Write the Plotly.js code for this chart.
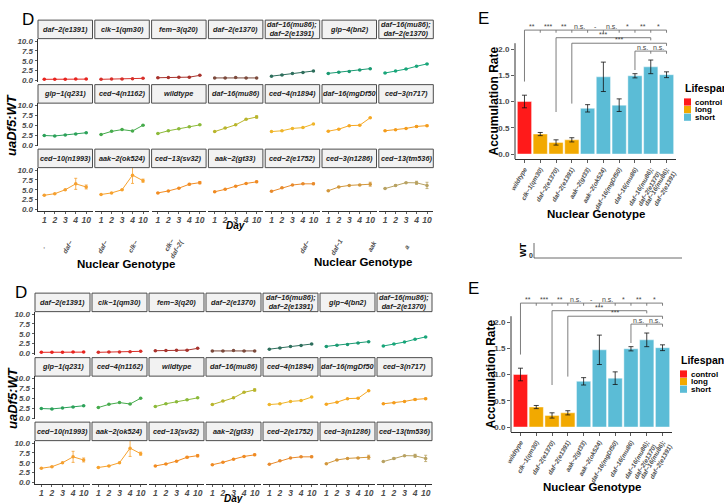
<!DOCTYPE html>
<html>
<head>
<meta charset="utf-8">
<script src="https://cdn.plot.ly/plotly-3.0.1.min.js"></script>
<style>body{margin:0;background:#fff}</style>
</head>
<body>
<div id="chart" style="width:724px;height:503px"></div>
<script>
// Panel D: uaDf5:WT ratio per day, one facet per strain
let days = ["1", "2", "3", "4", "10"]
let strains = ["daf−2(e1391)", "clk−1(qm30)", "fem−3(q20)", "daf−2(e1370)", "daf−16(mu86);<br>daf−2(e1391)", "glp−4(bn2)", "daf−16(mu86);<br>daf−2(e1370)",
               "glp−1(q231)", "ced−4(n1162)", "wildtype", "daf−16(mu86)", "ced−4(n1894)", "daf−16(mgDf50", "ced−3(n717)",
               "ced−10(n1993)", "aak−2(ok524)", "ced−13(sv32)", "aak−2(gt33)", "ced−2(e1752)", "ced−3(n1286)", "ced−13(tm536)"]
let ratioMeans = [
    [0.30, 0.30, 0.32, 0.35, 0.35],
    [0.30, 0.35, 0.40, 0.45, 0.55],
    [0.70, 0.75, 0.80, 0.85, 1.30],
    [0.65, 0.65, 0.75, 0.65, 0.65],
    [1.10, 1.40, 1.80, 2.05, 2.40],
    [1.80, 2.10, 2.30, 2.65, 3.00],
    [1.90, 2.40, 2.90, 3.60, 4.20],
    [2.40, 2.30, 2.55, 2.80, 3.10],
    [2.65, 3.45, 3.90, 3.55, 5.00],
    [2.90, 3.60, 4.10, 4.60, 5.10],
    [3.40, 4.30, 5.10, 6.50, 7.10],
    [3.40, 3.60, 4.20, 4.40, 5.30],
    [3.50, 4.00, 4.90, 5.00, 6.90],
    [3.60, 3.85, 4.20, 4.70, 4.90],
    [3.60, 4.00, 5.00, 6.50, 5.70],
    [3.80, 4.20, 5.00, 8.70, 7.30],
    [4.20, 4.70, 5.40, 6.40, 6.80],
    [4.50, 5.10, 5.90, 6.60, 7.00],
    [4.60, 5.50, 6.20, 6.50, 6.50],
    [4.75, 5.70, 6.10, 6.20, 6.40],
    [5.30, 6.10, 6.80, 6.75, 6.10]
]
let ratioErr = [
    [0, 0, 0, 0, 0], [0, 0, 0, 0, 0], [0, 0, 0, 0, 0], [0, 0, 0, 0, 0], [0, 0, 0, 0, 0], [0, 0, 0, 0, 0], [0, 0, 0, 0, 0],
    [0, 0, 0, 0, 0], [0, 0, 0, 0, 0], [0, 0, 0, 0, 0], [0, 0, 0, 0, 0.3], [0, 0, 0, 0, 0], [0, 0, 0, 0, 0], [0, 0, 0, 0.2, 0.15],
    [0, 0, 0, 1.4, 0.5], [0, 0, 0, 2.1, 0.4], [0, 0, 0, 0.2, 0.3], [0, 0, 0, 0, 0.2], [0, 0, 0, 0, 0.2], [0, 0, 0, 0, 0.5], [0, 0.2, 0, 0.4, 0.8]
]
let strainColors = ["#e8241f", "#d8302a", "#a8322c", "#7c4a3c", "#2e6e5c", "#1a9a72", "#19a67a",
                    "#2ca25a", "#46ab4c", "#8cba3a", "#b9b52c", "#efb52a", "#f6a823", "#f49c1c",
                    "#f5a030", "#f7a22e", "#f28c22", "#f08a22", "#e88a2c", "#d2973c", "#b8a262"]

// Panel E: accumulation rate per genotype
let genotypes = ["wildtype", "clk−1(qm30)", "daf−2(e1370)", "daf−2(e1391)", "aak−2(gt33)", "aak−2(ok524)", "daf−16(mgDf50)", "daf−16(mu86)",
                 "daf−16(mu86);<br>daf−2(e1370)", "daf−16(mu86);<br>daf−2(e1391)"]
let accRate = [1.00, 0.38, 0.22, 0.27, 0.87, 1.47, 0.93, 1.49, 1.66, 1.51]
let accErr = [0.12, 0.03, 0.05, 0.04, 0.07, 0.28, 0.12, 0.04, 0.13, 0.055]
let lifespan = ["control", "long", "long", "long", "short", "short", "short", "short", "short", "short"]
let lifespanGroups = ["control", "long", "short"]
let lifespanColors = ["#ff1a1a", "#f2a900", "#5bbcd6"]

// significance brackets
let sigRef = [0, 2, 3, 7]
let sigTargets = [[1, 2, 3, 4, 5, 6, 7, 8, 9], [8], [9], [8, 9]]
let sigLabels = [["**", "***", "**", "n.s.", "-", "n.s.", "*", "**", "*"], ["***"], ["***"], ["n.s.", "n.s."]]
let sigY = [2.36, 2.215, 2.11, 1.96]
let sigDrop = [1.38, 0.80, 0.96, 1.60]

const W = 724, H = 503
const px = v => v / W
const py = v => 1 - v / H
const FONT = "Liberation Sans, Arial, sans-serif"

let traces = []
let layout = {
    width: W, height: H,
    margin: { l: 0, r: 0, t: 0, b: 0 },
    paper_bgcolor: "#fff", plot_bgcolor: "rgba(0,0,0,0)",
    showlegend: false, barmode: "overlay", bargap: 0.1,
    font: { family: FONT },
    shapes: [], annotations: []
}

let axN = 0
function newAxes(xa, ya) {
    axN++
    let s = axN === 1 ? "" : axN
    layout["xaxis" + s] = { showgrid: false, zeroline: false, fixedrange: true, ...xa, anchor: "y" + s }
    layout["yaxis" + s] = { showgrid: false, zeroline: false, fixedrange: true, ...ya, anchor: "x" + s }
    return { x: "x" + s, y: "y" + s }
}
function note(x, y, text, font, extra) {
    layout.annotations.push({ xref: "paper", yref: "paper", x: px(x), y: py(y), text: text, showarrow: false,
        font: { family: FONT, ...font }, xanchor: "center", yanchor: "middle", ...extra })
}
function paperLine(x0, y0, x1, y1, color, width) {
    layout.shapes.push({ type: "line", xref: "paper", yref: "paper", x0: px(x0), y0: py(y0), x1: px(x1), y1: py(y1),
        line: { color: color, width: width } })
}

let hiddenAxis = { showline: false, showticklabels: false, ticks: "" }
let dLeftAxis = {
    showline: true, linecolor: "#1a1a1a", linewidth: 0.9, ticks: "outside", ticklen: 2.5, tickwidth: 0.8, tickcolor: "#333",
    tickvals: [0, 2.5, 5, 7.5, 10], ticktext: ["0.0", "2.5", "5.0", "7.5", "10.0"],
    tickfont: { family: FONT, size: 8, color: "#4d4d4d", weight: "bold", style: "italic" }
}
let dBottomAxis = {
    showline: true, linecolor: "#1a1a1a", linewidth: 0.9, ticks: "outside", ticklen: 2, tickwidth: 0.8, tickcolor: "#333",
    tickmode: "array", tickvals: days, ticktext: days, ticklabelstandoff: -1,
    tickfont: { family: FONT, size: 8.5, color: "#4d4d4d", weight: "bold", style: "italic" }
}

// two copies of the figure: bottom one and the shifted top one
let dCopies = [
    { left: 35, pitch: 57, width: 55, zero: 353.5, label: [21, 292], titleY: 398, dayY: 498.5 },
    { left: 38, pitch: 56.8, width: 54.5, zero: 80.5, label: [28, 20], titleY: 125, dayY: 226 }
]
let eCopies = [
    { left: 511, right: 672, zero: 427, label: [473, 288], legX: 680, legY: 360 },
    { left: 515, right: 676, zero: 154, label: [484, 18], legX: 684, legY: 88 }
]
const unitD = 3.95, rowPitch = 64.5, unitE = 52.5

dCopies.forEach(cp => {
    strains.forEach((name, i) => {
        let r = Math.floor(i / 7), c = i % 7
        let x0 = cp.left + c * cp.pitch, x1 = x0 + cp.width
        let zero = cp.zero + r * rowPitch
        let top = zero - 10.6 * unitD, bot = zero + 0.3 * unitD
        let ax = newAxes(
            { domain: [px(x0), px(x1)], type: "category", categoryarray: days, range: [-0.6, 4.6], ...(r === 2 ? dBottomAxis : hiddenAxis) },
            { domain: [py(bot), py(top)], range: [-0.3, 10.6], ...(c === 0 ? dLeftAxis : hiddenAxis) }
        )
        traces.push({
            type: "scatter", mode: "lines+markers", x: days, y: ratioMeans[i], xaxis: ax.x, yaxis: ax.y,
            line: { color: strainColors[i], width: 1 },
            marker: { color: strainColors[i], size: 3.5 },
            error_y: { type: "data", array: ratioErr[i], color: strainColors[i], thickness: 0.8, width: 1.5 },
            cliponaxis: false
        })
        layout.shapes.push({ type: "rect", xref: "paper", yref: "paper", x0: px(x0), x1: px(x1), y0: py(top - 18.5), y1: py(top),
            fillcolor: "#f2f2f2", line: { color: "#4d4d4d", width: 1 } })
        note((x0 + x1) / 2, top - 9.25, name, { size: 7.3, color: "#1a1a1a", weight: "bold", style: "italic" })
    })
    note(cp.label[0], cp.label[1], "D", { size: 17, color: "#000" })
    note(12, cp.titleY, "uaDf5:WT", { size: 13, color: "#000", weight: "bold", style: "italic" }, { textangle: -90 })
    note(cp.left + (6 * cp.pitch + cp.width) / 2, cp.dayY, "Day", { size: 10, color: "#000", weight: "bold", style: "italic" })
})

eCopies.forEach(cp => {
    let bot = cp.zero + 0.1 * unitE, top = cp.zero - 2.42 * unitE
    let ax = newAxes(
        { domain: [px(cp.left), px(cp.right)], type: "category", categoryarray: genotypes, range: [-0.6, 9.6],
          showline: true, linecolor: "#1a1a1a", linewidth: 0.9, ticks: "outside", ticklen: 3, tickwidth: 0.8, tickcolor: "#333",
          tickangle: -60, tickfont: { family: FONT, size: 6.3, color: "#4d4d4d", weight: "bold", style: "italic" } },
        { domain: [py(bot), py(top)], range: [-0.1, 2.42], showline: false,
          ticks: "outside", ticklen: 3, tickwidth: 0.8, tickcolor: "#333",
          tickvals: [0, 0.5, 1, 1.5, 2], ticktext: ["0.0", "0.5", "1.0", "1.5", "2.0"],
          tickfont: { family: FONT, size: 8, color: "#4d4d4d", weight: "bold" } }
    )
    lifespanGroups.forEach((g, k) => {
        let idx = lifespan.map((l, i) => l === g ? i : -1).filter(i => i >= 0)
        traces.push({
            type: "bar", x: idx.map(i => genotypes[i]), y: idx.map(i => accRate[i]), xaxis: ax.x, yaxis: ax.y,
            marker: { color: lifespanColors[k], line: { color: "rgba(255,255,255,0.7)", width: 0.6 } },
            error_y: { type: "data", array: idx.map(i => accErr[i]), color: "#111", thickness: 0.8, width: 2.5 }
        })
    })
    // y axis line only up to the panel top
    layout.shapes.push({ type: "line", xref: ax.x + " domain", yref: ax.y, x0: 0, x1: 0, y0: -0.1, y1: 2.11,
        line: { color: "#1a1a1a", width: 0.9 } })
    // significance brackets
    sigRef.forEach((ref, k) => {
        let tg = sigTargets[k], yl = sigY[k]
        let seg = (a, b, c, d) => layout.shapes.push({ type: "line", xref: ax.x, yref: ax.y, x0: a, y0: b, x1: c, y1: d,
            line: { color: "#6e6e6e", width: 0.9 } })
        seg(ref, yl, tg[tg.length - 1], yl)
        seg(ref, yl, ref, sigDrop[k])
        tg.forEach((t, j) => {
            seg(t, yl, t, yl - 0.05)
            layout.annotations.push({ xref: ax.x, yref: ax.y, x: tg.length > 1 ? t - 0.5 : (ref + t) / 2, y: yl,
                text: sigLabels[k][j], showarrow: false, yanchor: "bottom", yshift: -2,
                font: { family: FONT, size: 7, color: "#444" } })
        })
    })
    note(cp.label[0], cp.label[1], "E", { size: 17, color: "#000" })
    note(cp.left - 21, cp.zero - unitE, "Accumulation Rate", { size: 12, color: "#000", weight: "bold" }, { textangle: -90 })
    note((cp.left + cp.right) / 2, cp.zero + 60, "Nuclear Genotype", { size: 11.5, color: "#000", weight: "bold" })
    // legend
    note(cp.legX - 1, cp.legY, "Lifespan", { size: 10.5, color: "#000", weight: "bold" }, { xanchor: "left" })
    lifespanGroups.forEach((g, k) => {
        let yy = cp.legY + 14 + k * 7.6
        layout.shapes.push({ type: "rect", xref: "paper", yref: "paper", x0: px(cp.legX), x1: px(cp.legX + 7),
            y0: py(yy + 3.6), y1: py(yy - 3.6), fillcolor: lifespanColors[k], line: { width: 0 } })
        note(cp.legX + 9, yy, g, { size: 8, color: "#000", weight: "bold" }, { xanchor: "left" })
    })
})

// leftover fragments under the top copy
let fragX = [43, 68, 103, 133, 173, 305, 337, 372, 407]
let fragText = [".", "daf−", "daf−", "clk−", "clk−<br>daf−2(", "daf−", "daf−1", "aak", "a"]
fragX.forEach((x, i) => note(x, 247, fragText[i], { size: 6.5, color: "#4d4d4d", weight: "bold", style: "italic" }, { textangle: -60 }))
note(126, 264, "Nuclear Genotype", { size: 11.5, color: "#000", weight: "bold" })
note(363, 262, "Nuclear Genotype", { size: 11.5, color: "#000", weight: "bold" })
note(523, 250, "WT", { size: 9, color: "#000", weight: "bold" }, { textangle: -90 })
note(531, 256, "0", { size: 7, color: "#333", weight: "bold" })
paperLine(534, 243, 534, 258, "#444", 0.8)
paperLine(534, 258, 682, 258, "#444", 0.8)

Plotly.newPlot("chart", traces, layout, { staticPlot: true })
</script>
</body>
</html>
